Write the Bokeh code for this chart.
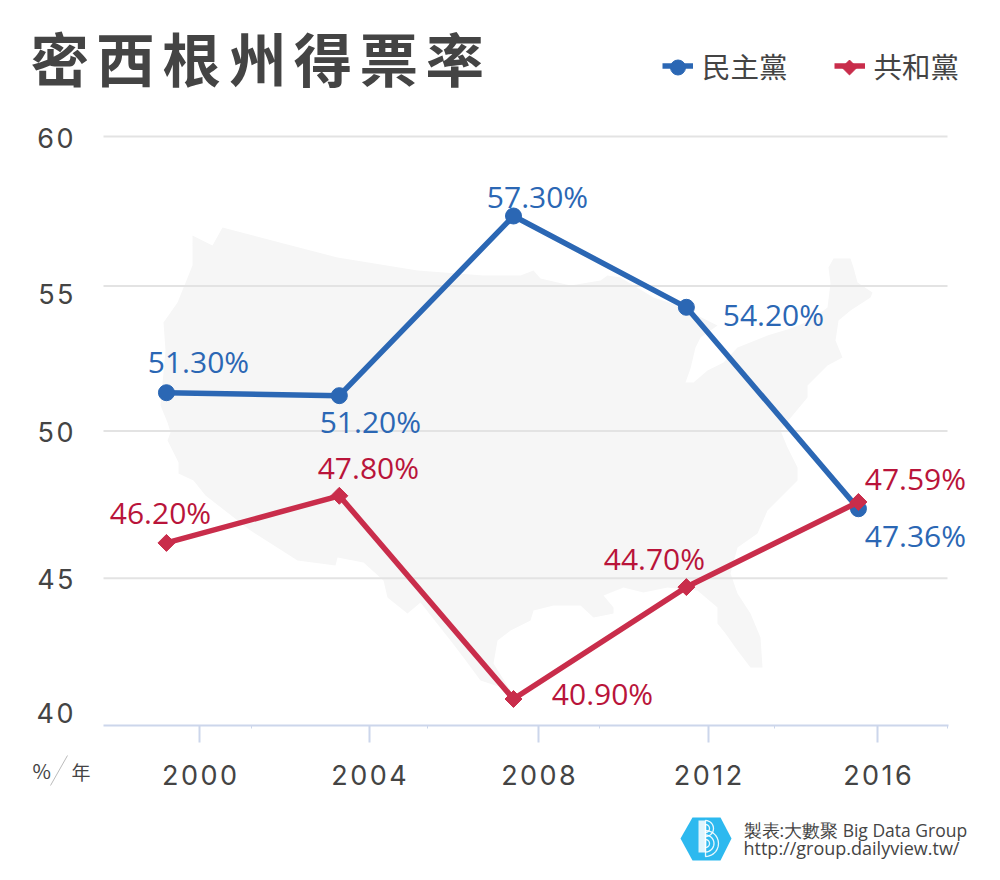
import numpy as np
from bokeh.core.properties import value
from bokeh.embed import file_html
from bokeh.resources import INLINE
from bokeh.plotting import figure
from bokeh.models import (ColumnDataSource, FixedTicker, Label, Legend, LegendItem, LabelSet,
                          PolyAnnotation, Range1d)

# ---- data ----
HS = "\u200a"
title_text = (HS + HS).join("密西根州得票率")
year_ticks = [2000, 2004, 2008, 2012, 2016]
minor_year_ticks = [2001.23, 2005.37, 2009.43, 2013.56, 2017.65]
point_years = [1999.22, 2003.3, 2007.41, 2011.49, 2015.55]
dem_name = "民主黨"
rep_name = "共和黨"
dem_values = [51.30, 51.20, 57.30, 54.20, 47.36]
rep_values = [46.20, 47.80, 40.90, 44.70, 47.59]
y_grid_values = [45, 50, 54.92, 60]
y_label_names = ["40", "45", "50", "55", "60"]
y_label_spots = [40.41, 44.95, 49.95, 54.62, 59.93]
# label offsets from the point (px)
dem_dx = [32, 31, 24, 87, 57]
dem_dy = [31, -26, 20, -7, -27]
rep_dx = [-6, 29, 89, -32, 57]
rep_dy = [30, 28, 5, 29, 23]
# background map outline (px)
map_px = [(192,235),(212,245),(222,227),(283,243),(337,257),(417,270),(483,275),(520,275),(533,270),(540,278),
 (570,285),(600,280),(607,275),(620,277),(653,297),(677,305),(693,313),(717,325),(710,330),(700,337),(695,347),
 (690,368),(685,382),(693,382),(707,370),(723,362),(737,347),(767,335),(790,328),(810,320),(827,307),(830,283),
 (828,267),(833,258),(850,258),(853,267),(857,282),(872,292),(870,297),(850,310),(838,320),(835,340),(842,357),
 (827,365),(807,385),(807,397),(792,415),(780,430),(787,447),(797,467),(797,480),(780,497),(767,510),(757,533),
 (737,547),(730,573),(737,593),(750,613),(760,637),(762,667),(750,667),(737,650),(725,633),(717,623),(717,607),
 (697,590),(667,587),(643,592),(623,587),(603,595),(613,607),(613,613),(593,617),(580,605),(553,605),(533,610),
 (530,620),(510,630),(497,640),(493,663),(510,690),(480,680),(463,657),(450,640),(420,602),(407,613),(387,597),
 (383,580),(363,562),(337,557),(335,565),(297,560),(250,530),(205,495),(193,480),(178,473),(178,462),(167,440),
 (170,432),(167,422),(160,405),(165,350),(163,322),(177,302),(192,265)]
footer_1 = "製表:大數聚 Big Data Group"
footer_2 = "http://group.dailyview.tw/"

# ---- style ----
BLUE, RED = "#2B67B4", "#C92D4B"
BLUE_T, RED_T = "#2B67B4", "#B9143A"
DARK = "#444444"
AXIS = "#CCD6EB"
W, H = 984, 864
LEFT, RIGHT, BOTTOM = 103, 947, 725
PX_PER_YEAR = 42.375
PX_PER_UNIT = 29.45

def dx(px):
    return 2000 + (px - 199) / PX_PER_YEAR

def dy(py):
    return 40 + (BOTTOM - py) / PX_PER_UNIT

p = figure(width=W, height=H, output_backend="svg", toolbar_location=None,
           x_range=Range1d(dx(0), dx(W)), y_range=Range1d(dy(H), dy(0)),
           min_border_left=0, min_border_top=0, min_border_right=0, min_border_bottom=0)
p.outline_line_color = None

p.xgrid.visible = False
p.ygrid.visible = False
p.segment([dx(LEFT)] * len(y_grid_values), y_grid_values, [dx(RIGHT)] * len(y_grid_values), y_grid_values,
          line_color="#E3E3E3", line_width=2, level="underlay")

ax = p.xaxis[0]
ax.fixed_location = 40
ax.bounds = (dx(LEFT), dx(RIGHT + 1))
ax.ticker = FixedTicker(ticks=year_ticks, minor_ticks=minor_year_ticks)
ax.major_label_overrides = {y: HS.join(str(y)) for y in year_ticks}
ax.axis_line_color = AXIS
ax.axis_line_width = 2
ax.major_tick_line_color = AXIS
ax.major_tick_line_width = 2
ax.major_tick_out = 17
ax.major_tick_in = 0
ax.minor_tick_line_color = AXIS
ax.minor_tick_line_width = 1
ax.minor_tick_out = 3
ax.minor_tick_in = 0
ax.major_label_standoff = 16
ax.major_label_text_font = "Inter"
ax.major_label_text_font_size = "27px"
ax.major_label_text_color = DARK

ay = p.yaxis[0]
ay.fixed_location = dx(LEFT)
ay.ticker = FixedTicker(ticks=y_label_spots)
ay.major_label_overrides = {k: HS.join(n) for k, n in zip(y_label_spots, y_label_names)}
ay.axis_line_color = None
ay.major_tick_line_color = None
ay.minor_tick_line_color = None
ay.major_tick_out = 0
ay.major_tick_in = 0
ay.major_label_standoff = 30
ay.major_label_text_font = "Inter"
ay.major_label_text_font_size = "27px"
ay.major_label_text_color = DARK

p.patch([dx(a) for a, _ in map_px], [dy(b) for _, b in map_px],
        fill_color="#F6F6F6", line_color=None, level="image")

dem_line = p.line(point_years, dem_values, line_color=BLUE, line_width=5.5)
p.scatter(point_years, dem_values, marker="circle", size=16, fill_color=BLUE, line_color=BLUE)
rep_line = p.line(point_years, rep_values, line_color=RED, line_width=5.5)
p.scatter(point_years, rep_values, marker="square", size=12, angle=np.pi / 4, fill_color=RED, line_color=RED)

for vals, ox, oy, col in ((dem_values, dem_dx, dem_dy, BLUE_T), (rep_values, rep_dx, rep_dy, RED_T)):
    src = ColumnDataSource(dict(x=point_years, y=vals, t=[f"{v:.2f}%" for v in vals], ox=ox, oy=oy))
    p.add_layout(LabelSet(x="x", y="y", text="t", x_offset="ox", y_offset="oy", source=src,
                          text_font=value("Open Sans"), text_font_size="30px", text_color=col,
                          text_align="center", text_baseline="middle"))

legend = Legend(items=[LegendItem(label=dem_name, renderers=[dem_line]),
                       LegendItem(label=rep_name, renderers=[rep_line])],
                orientation="horizontal", location=(662, 778), padding=0, margin=0, spacing=46,
                glyph_width=31, glyph_height=31, label_standoff=9, border_line_color=None,
                background_fill_alpha=0, label_text_font="Noto Sans CJK TC", label_text_font_size="28.5px",
                label_text_color=DARK)
p.add_layout(legend)
# legend key markers (the legend itself would draw them too small and unrotated)
p.scatter([dx(677.5)], [dy(67)], marker="circle", size=15, fill_color=BLUE, line_color=BLUE)
p.scatter([dx(849)], [dy(67)], marker="square", size=10.5, angle=np.pi / 4, fill_color=RED, line_color=RED)

def note(text, px, py, size, font="Noto Sans CJK TC", color=DARK, align="left", style="normal"):
    p.add_layout(Label(x=dx(px), y=dy(py), text=text, text_font=font, text_font_size=size, text_color=color,
                       text_align=align, text_baseline="middle", text_font_style=style))

note(title_text, 30, 56, "58.5px", style="bold")
note("%", 32, 770, "20px")
note("年", 71, 771, "19px")
note(footer_1, 743, 829, "17.5px", font="Open Sans")
note(footer_2, 743, 847, "18px", font="Open Sans")
p.segment([dx(50)], [dy(785)], [dx(67)], [dy(755)], line_color="#BBBBBB", line_width=1)

# logo
hex_px = [(680,838),(692,817),(720,817),(731,838),(720,860),(692,860)]
p.add_layout(PolyAnnotation(xs=[dx(a) for a, _ in hex_px], ys=[dy(b) for _, b in hex_px],
                            fill_color="#2DB9EF", fill_alpha=1, line_color=None, level="annotation"))
bar = [(698,820),(705,820),(705,852),(698,852)]
p.add_layout(PolyAnnotation(xs=[dx(a) for a, _ in bar], ys=[dy(b) for _, b in bar],
                            fill_color="white", fill_alpha=0.85, line_color=None, level="annotation"))
for cx, cy, r in ((705, 828, 4), (705, 828, 8), (705, 843, 4), (705, 843, 8.5), (705, 843, 13)):
    th = np.linspace(-np.pi / 2, np.pi / 2, 15)
    p.add_layout(PolyAnnotation(xs=[dx(v) for v in cx + r * np.cos(th)], ys=[dy(v) for v in cy + r * np.sin(th)],
                                fill_alpha=0, line_color="white", line_width=1.3, line_alpha=0.9, level="annotation"))

open("out.html", "w").write(file_html(p, INLINE))
